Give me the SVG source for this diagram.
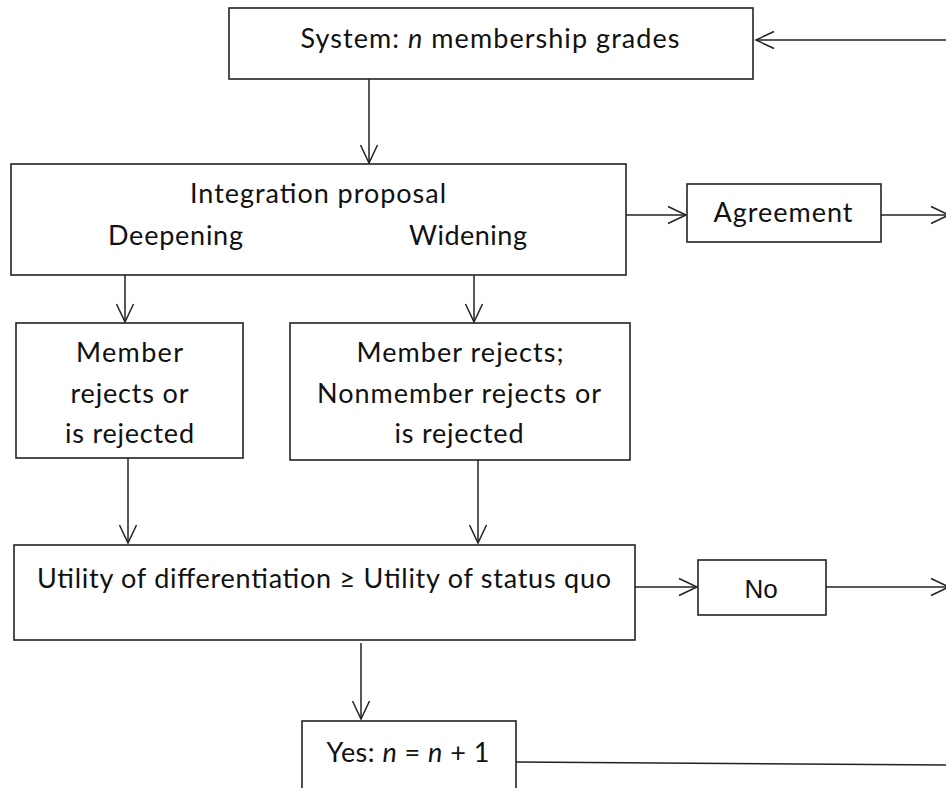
<svg xmlns="http://www.w3.org/2000/svg" width="946" height="788" viewBox="0 0 946 788">
<defs>
<style>
.box{fill:#fff;stroke:#222;stroke-width:1.6}
.t{font-family:Lato,"Open Sans","Liberation Sans",sans-serif;font-size:27px;fill:#111;text-anchor:middle}
.a{font-family:"Liberation Sans",Arial,sans-serif;font-size:26px;fill:#111;text-anchor:middle}
.c{fill:none;stroke:#222;stroke-width:1.5}
.i{font-style:italic}
</style>
<marker id="ah" markerUnits="userSpaceOnUse" markerWidth="24" markerHeight="24" viewBox="-20 -12 24 24" refX="0" refY="0" orient="auto" overflow="visible">
<path d="M-18,-8.5 L0,0 L-18,8.5" fill="none" stroke="#222" stroke-width="1.5"/>
</marker>
</defs>
<rect width="946" height="788" fill="#fff"/>
<g id="connectors">
<line class="c" x1="946" y1="40" x2="756" y2="40" marker-end="url(#ah)"/>
<line class="c" x1="369" y1="79" x2="369" y2="163" marker-end="url(#ah)"/>
<line class="c" x1="626" y1="215" x2="686" y2="215" marker-end="url(#ah)"/>
<line class="c" x1="881" y1="215" x2="949" y2="215" marker-end="url(#ah)"/>
<line class="c" x1="125" y1="275" x2="125" y2="322" marker-end="url(#ah)"/>
<line class="c" x1="474" y1="275" x2="474" y2="322" marker-end="url(#ah)"/>
<line class="c" x1="128" y1="458" x2="128" y2="543" marker-end="url(#ah)"/>
<line class="c" x1="478" y1="460" x2="478" y2="543" marker-end="url(#ah)"/>
<line class="c" x1="635" y1="587" x2="697" y2="587" marker-end="url(#ah)"/>
<line class="c" x1="826" y1="587" x2="949" y2="587" marker-end="url(#ah)"/>
<line class="c" x1="361" y1="643" x2="361" y2="719" marker-end="url(#ah)"/>
<line class="c" x1="516" y1="762" x2="946" y2="765"/>
</g>
<g id="system">
<rect class="box" x="229" y="8" width="524" height="71"/>
<text class="t" x="490" y="48" textLength="379">System: <tspan class="i">n</tspan> membership grades</text>
</g>
<g id="proposal">
<rect class="box" x="11" y="164" width="615" height="111"/>
<text class="t" x="318" y="203" textLength="256">Integration proposal</text>
<text class="t" x="175.5" y="245" textLength="135">Deepening</text>
<text class="t" x="468" y="245" textLength="118">Widening</text>
</g>
<g id="agreement">
<rect class="box" x="687" y="184" width="194" height="58"/>
<text class="t" x="783" y="222" textLength="139">Agreement</text>
</g>
<g id="member-rejects">
<rect class="box" x="16" y="323" width="227" height="135"/>
<text class="t" x="129.5" y="362" textLength="107">Member</text>
<text class="t" x="129.5" y="403" textLength="118">rejects or</text>
<text class="t" x="129.5" y="443" textLength="129">is rejected</text>
</g>
<g id="nonmember-rejects">
<rect class="box" x="290" y="323" width="340" height="137"/>
<text class="t" x="460" y="362" textLength="207">Member rejects;</text>
<text class="t" x="459" y="403" textLength="284">Nonmember rejects or</text>
<text class="t" x="459" y="443" textLength="129">is rejected</text>
</g>
<g id="utility">
<rect class="box" x="14" y="545" width="621" height="95"/>
<text class="t" x="324" y="588" textLength="574">Utility of differentiation ≥ Utility of status quo</text>
</g>
<g id="no">
<rect class="box" x="698" y="560" width="128" height="55"/>
<text class="a" x="761" y="598">No</text>
</g>
<g id="yes">
<rect class="box" x="302" y="721" width="214" height="80"/>
<text class="t" x="408" y="762" textLength="163">Yes: <tspan class="i">n</tspan> = <tspan class="i">n</tspan> + 1</text>
</g>
</svg>
